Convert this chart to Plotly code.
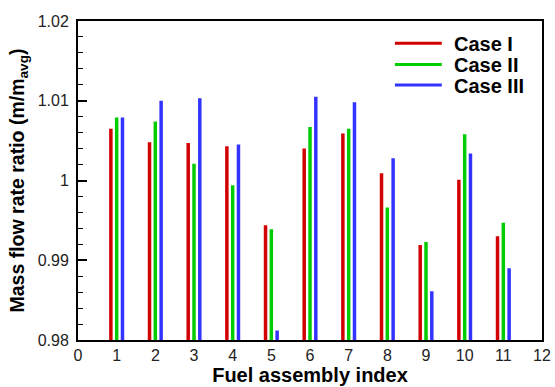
import plotly.graph_objects as go

assembly_index = [1, 2, 3, 4, 5, 6, 7, 8, 9, 10, 11]
case_1 = [1.0065, 1.0048, 1.0047, 1.0043, 0.9944, 1.0040, 1.0059, 1.0009, 0.9919, 1.0001, 0.9930]
case_2 = [1.0079, 1.0074, 1.0021, 0.9994, 0.9939, 1.0067, 1.0065, 0.9966, 0.9923, 1.0058, 0.9947]
case_3 = [1.0079, 1.0100, 1.0103, 1.0045, 0.9812, 1.0105, 1.0098, 1.0028, 0.9861, 1.0034, 0.9890]
series_names = ["Case I", "Case II", "Case III"]
series_colors = ["#D20000", "#00CC00", "#3333FF"]
x_ticks = list(range(0, 13))
y_ticks = [0.98, 0.99, 1.0, 1.01, 1.02]
y_tick_labels = ["0.98", "0.99", "1", "1.01", "1.02"]

FONT = "Arial, Liberation Sans, sans-serif"
fig = go.Figure()
for name, vals, col in zip(series_names, [case_1, case_2, case_3], series_colors):
    fig.add_trace(go.Bar(x=assembly_index, y=vals, name=name,
                         marker=dict(color=col, line=dict(width=0)), showlegend=False))

# custom legend (line symbols + bold labels) in paper coordinates
legend_y = [0.930, 0.864, 0.799]
for name, col, ly in zip(series_names, series_colors, legend_y):
    fig.add_shape(type="line", xref="paper", yref="paper", x0=0.683, x1=0.784, y0=ly, y1=ly,
                  line=dict(color=col, width=3))
    fig.add_annotation(xref="paper", yref="paper", x=0.806, y=ly - 0.003, xanchor="left",
                       yanchor="middle", text=f"<b>{name}</b>", showarrow=False,
                       font=dict(size=20, family=FONT, color="black"))

fig.update_layout(
    width=555, height=387,
    margin=dict(l=78, r=13, t=21, b=47),
    paper_bgcolor="white", plot_bgcolor="white",
    barmode="group", bargap=0.55, bargroupgap=0.4,
    font=dict(family=FONT, color="black"),
    showlegend=False,
    xaxis=dict(range=[0, 12], tickvals=x_ticks, ticks="", showgrid=False, zeroline=False,
               showline=True, linecolor="black", linewidth=2, mirror=True, automargin=False,
               tickfont=dict(size=16, color="#222"),
               title=dict(text="<b>Fuel assembly index</b>", font=dict(size=20), standoff=2)),
    yaxis=dict(range=[0.98, 1.02], tickvals=y_ticks, ticktext=y_tick_labels, ticks="inside",
               ticklen=9, tickwidth=1.5, tickcolor="black", showgrid=False, zeroline=False,
               showline=True, linecolor="black", linewidth=2, mirror=True, automargin=False,
               tickfont=dict(size=16, color="#222"), ticklabelstandoff=4,
               minor=dict(ticks="inside", dtick=0.002, ticklen=5, tickwidth=1, tickcolor="black"),
               title=dict(text="<b>Mass flow rate ratio (m/m<sub>avg</sub>)</b>", font=dict(size=19.5), standoff=8)),
)
fig.write_html("out.html", config={"displayModeBar": False},
               post_script="document.body.style.margin='0';")
